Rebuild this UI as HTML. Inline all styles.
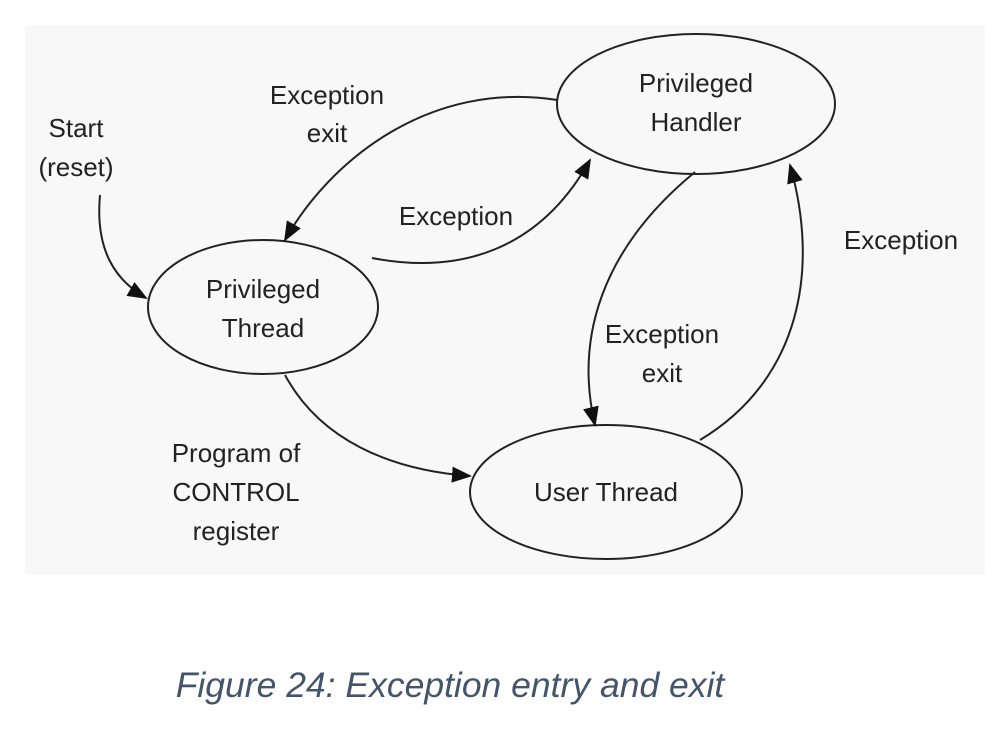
<!DOCTYPE html>
<html><head><meta charset="utf-8"><style>
body{margin:0;background:#fff;}
svg{display:block;}
text{font-family:"Liberation Sans",sans-serif;font-size:26px;fill:#222;}
</style></head><body>
<svg width="1006" height="732" viewBox="0 0 1006 732">
<defs><marker id="a" markerWidth="20" markerHeight="16" refX="18" refY="8" orient="auto" markerUnits="userSpaceOnUse">
<path d="M0,0 L20,8 L0,16 Z" fill="#111"/></marker></defs>
<rect x="25" y="25" width="960" height="550" fill="#f8f8f8"/>
<g fill="none" stroke="#222" stroke-width="2">
<ellipse cx="696" cy="104" rx="139" ry="70"/>
<ellipse cx="263" cy="307" rx="115" ry="67"/>
<ellipse cx="606" cy="492" rx="136" ry="67"/>
<path d="M100,195 C95,250 115,280 146,298" marker-end="url(#a)"/>
<path d="M557,100 C430,80 330,160 285,240" marker-end="url(#a)"/>
<path d="M372,258 C460,275 540,250 590,160" marker-end="url(#a)"/>
<path d="M695,172 C600,250 575,340 595,425" marker-end="url(#a)"/>
<path d="M700,440 C800,380 820,270 790,165" marker-end="url(#a)"/>
<path d="M285,375 C320,440 390,470 470,476" marker-end="url(#a)"/>
</g>
<text x="696" y="92" text-anchor="middle">Privileged</text>
<text x="696" y="131" text-anchor="middle">Handler</text>
<text x="263" y="298" text-anchor="middle">Privileged</text>
<text x="263" y="337" text-anchor="middle">Thread</text>
<text x="606" y="501" text-anchor="middle">User Thread</text>
<text x="76" y="137" text-anchor="middle">Start</text>
<text x="76" y="176" text-anchor="middle">(reset)</text>
<text x="327" y="104" text-anchor="middle">Exception</text>
<text x="327" y="142" text-anchor="middle">exit</text>
<text x="456" y="225" text-anchor="middle">Exception</text>
<text x="901" y="249" text-anchor="middle">Exception</text>
<text x="662" y="343" text-anchor="middle">Exception</text>
<text x="662" y="382" text-anchor="middle">exit</text>
<text x="236" y="462" text-anchor="middle">Program of</text>
<text x="236" y="501" text-anchor="middle">CONTROL</text>
<text x="236" y="540" text-anchor="middle">register</text>
<text x="450" y="697" text-anchor="middle" style="font-size:35.5px;font-style:italic;fill:#44546a;">Figure 24: Exception entry and exit</text>
</svg>
</body></html>
